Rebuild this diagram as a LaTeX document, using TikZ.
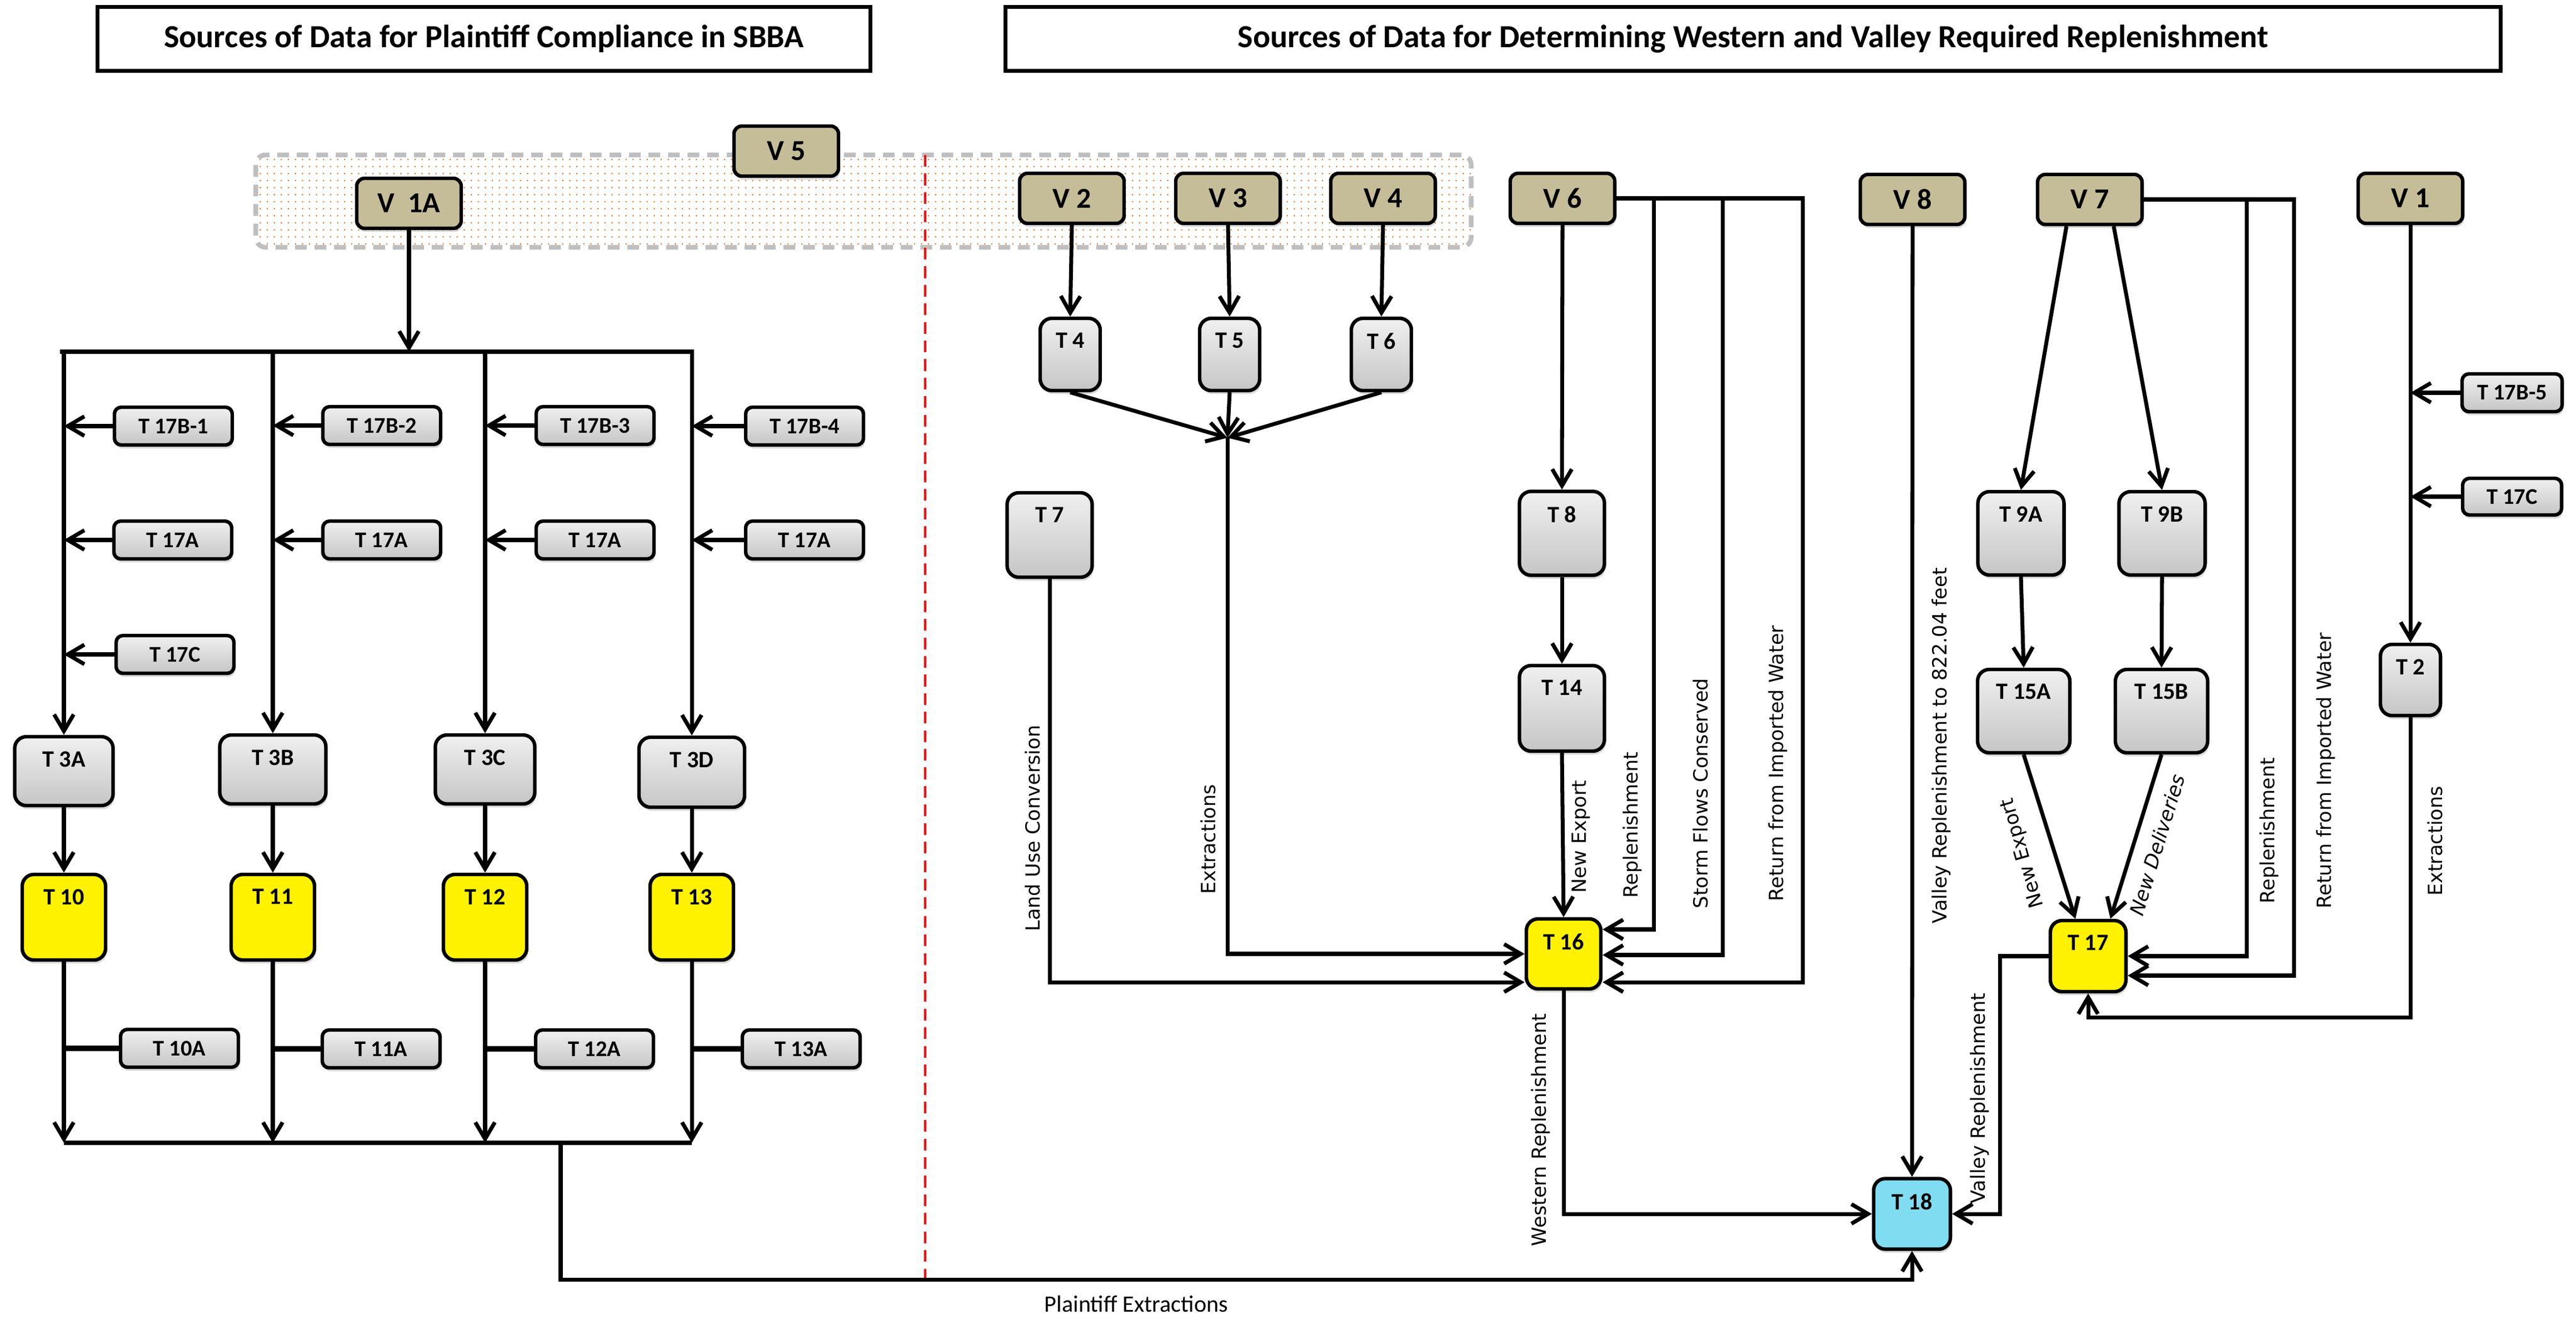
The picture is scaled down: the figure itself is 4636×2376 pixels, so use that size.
\documentclass[tikz,border=0pt]{standalone}
\usepackage{fontspec}
\setmainfont{Carlito}
\newfontfamily\labfont{DejaVu Sans}
\usetikzlibrary{arrows.meta,shadows,patterns.meta}
\definecolor{vtan}{HTML}{C4BD97}
\definecolor{tblue}{HTML}{80DCF0}
\definecolor{dotor}{HTML}{E46C0A}
\definecolor{greyline}{HTML}{BFBFBF}
\tikzset{
  base/.style={draw=black, line width=1.8pt, drop shadow={shadow xshift=0.6pt, shadow yshift=-1.8pt, opacity=0.3, fill=black!50}},
  vbox/.style={base, rounded corners=4pt, fill=vtan, minimum width=1.88cm, minimum height=0.9cm, font=\fontsize{14.8}{16}\selectfont\bfseries, inner sep=0pt},
  gbox/.style={base, rounded corners=6pt, top color=gray!12, bottom color=gray!45, inner sep=0pt},
  ybox/.style={base, rounded corners=6pt, fill=yellow, inner sep=0pt},
  bbox/.style={base, rounded corners=6pt, fill=tblue, inner sep=0pt},
  sbox/.style={base, rounded corners=3.5pt, top color=gray!12, bottom color=gray!45, minimum width=2.12cm, minimum height=0.68cm, font=\fontsize{11.5}{13}\selectfont\bfseries, inner sep=0pt},
  ytop/.style={label={[anchor=north, inner sep=0pt, yshift=-0.29cm, font=\fontsize{12}{14}\selectfont\bfseries]north:#1}},
  wh/.style 2 args={minimum width=#1, minimum height=#2},
  titlebox/.style={draw=black, line width=2pt, font=\fontsize{16.5}{19}\selectfont\bfseries, inner sep=0pt},
  region/.style={draw=greyline, line width=2.4pt, dash pattern=on 6pt off 4pt, rounded corners=5pt, pattern={Dots[distance=3.6pt, radius=0.4pt]}, pattern color=dotor, inner sep=0pt},
  conn/.style={line width=2pt},
  bus/.style={line width=2.4pt},
  stub/.style={line width=3pt},
  arr/.style={conn, -{Straight Barb[length=8.5pt, width=10pt]}},
  lab/.style={font=\labfont\fontsize{10}{12}\selectfont, rotate=90, inner sep=0pt},
  redline/.style={draw=red, line width=1pt, dash pattern=on 6pt off 3.5pt},
}
\begin{document}
\begin{tikzpicture}[x=0.01cm, y=-0.01cm]
\useasboundingbox (0,0) rectangle (4636,2376);

% titles
\node[titlebox, wh={13.9cm}{1.14cm}] (title1) at (871,70) {Sources of Data for Plaintiff Compliance in SBBA};
\node[titlebox, wh={26.89cm}{1.14cm}] (title2) at (3155,70) {Sources of Data for Determining Western and Valley Required Replenishment};

% V5 region
\node[region, wh={21.86cm}{1.66cm}] (V5reg) at (1554,362) {};
\coordinate (redtop) at (1665,279);
\coordinate (redbot) at (1665,2303);
\draw[redline] (redtop) -- (redbot);

% V nodes
\node[vbox] (V5) at (1415,272) {V 5};
\node[vbox] (V1A) at (736,366) {V\hspace{0.45em}1A};
\node[vbox] (V2) at (1929,357) {V 2};
\node[vbox] (V3) at (2210,357) {V 3};
\node[vbox] (V4) at (2489,357) {V 4};
\node[vbox] (V6) at (2812,357) {V 6};
\node[vbox] (V8) at (3442,359) {V 8};
\node[vbox] (V7) at (3761,359) {V 7};
\node[vbox] (V1) at (4338,357) {V 1};

% left side
\coordinate (busL) at (108,633);
\coordinate (busR) at (1249,633);
\coordinate (busT) at (736,633);
\node[gbox, ytop={T 3A}, wh={1.77cm}{1.24cm}] (T3A) at (115,1388) {};
\node[gbox, ytop={T 3B}, wh={1.91cm}{1.24cm}] (T3B) at (491,1385) {};
\node[gbox, ytop={T 3C}, wh={1.79cm}{1.24cm}] (T3C) at (873,1385) {};
\node[gbox, ytop={T 3D}, wh={1.90cm}{1.26cm}] (T3D) at (1245,1390) {};

\node[ybox, ytop={T 10}, wh={1.50cm}{1.54cm}] (T10) at (115,1651) {};
\node[ybox, ytop={T 11}, wh={1.50cm}{1.54cm}] (T11) at (491,1651) {};
\node[ybox, ytop={T 12}, wh={1.50cm}{1.54cm}] (T12) at (873,1651) {};
\node[ybox, ytop={T 13}, wh={1.50cm}{1.54cm}] (T13) at (1245,1651) {};

\node[sbox] (T17B1) at (312,767) {T 17B-1};
\node[sbox] (T17B2) at (687,766) {T 17B-2};
\node[sbox] (T17B3) at (1071,766) {T 17B-3};
\node[sbox] (T17B4) at (1448,767) {T 17B-4};
\node[sbox] (T17A1) at (311,972) {T 17A};
\node[sbox] (T17A2) at (687,972) {T 17A};
\node[sbox] (T17A3) at (1071,972) {T 17A};
\node[sbox] (T17A4) at (1448,972) {T 17A};
\node[sbox] (T17CL) at (315,1178) {T 17C};

\node[sbox] (T10A) at (323,1887) {T 10A};
\node[sbox] (T11A) at (686,1888) {T 11A};
\node[sbox] (T12A) at (1070,1888) {T 12A};
\node[sbox] (T13A) at (1442,1888) {T 13A};

\draw[arr] (V1A.south) -- (busT);
\draw[bus] (busL) -- (busR);
\foreach \c in {T3A,T3B,T3C,T3D}{
  \draw[arr] (\c.north |- busL) -- (\c.north);
}
\foreach \b/\c in {T17B1/T3A,T17B2/T3B,T17B3/T3C,T17B4/T3D,T17A1/T3A,T17A2/T3B,T17A3/T3C,T17A4/T3D,T17CL/T3A}{
  \draw[arr] (\b.west) -- (\c.north |- \b.west);
}
\draw[arr] (T3A.south) -- (T10.north);
\draw[arr] (T3B.south) -- (T11.north);
\draw[arr] (T3C.south) -- (T12.north);
\draw[arr] (T3D.south) -- (T13.north);

\coordinate (busB) at (1009,2057);
\coordinate (pe) at (1009,2303);
\foreach \c in {T10,T11,T12,T13}{
  \draw[arr] (\c.south) -- (\c.south |- busB);
}
\foreach \a/\c in {T10A/T10,T11A/T11,T12A/T12,T13A/T13}{
  \draw[stub] (\a.west) -- (\c.south |- \a.west);
}
\draw[bus] (T10.south |- busB) -- (T13.south |- busB);

% right side, middle
\node[gbox, ytop={T 4}, wh={1.08cm}{1.30cm}] (T4) at (1926,638) {};
\node[gbox, ytop={T 5}, wh={1.08cm}{1.30cm}] (T5) at (2213,638) {};
\node[gbox, ytop={T 6}, wh={1.08cm}{1.30cm}] (T6) at (2486,638) {};
\node[gbox, ytop={T 7}, wh={1.53cm}{1.52cm}] (T7) at (1889,963) {};
\node[gbox, ytop={T 8}, wh={1.53cm}{1.51cm}] (T8) at (2811,960) {};
\node[gbox, ytop={T 14}, wh={1.53cm}{1.54cm}] (T14) at (2811,1275) {};
\node[ybox, ytop={T 16}, wh={1.34cm}{1.26cm}] (T16) at (2814,1717) {};

\draw[arr] (V2.south) -- (T4.north);
\draw[arr] (V3.south) -- (T5.north);
\draw[arr] (V4.south) -- (T6.north);
\coordinate (J) at (2209,788);
\draw[arr] (T4.south) -- (J);
\draw[arr] (T5.south) -- (J);
\draw[arr] (T6.south) -- (J);
\draw[arr] (J) |- (T16.west);
\draw[arr] (T7.south) |- ([yshift=-0.51cm]T16.west);

\draw[arr] (V6.south) -- (T8.north);
\draw[arr] (T8.south) -- (T14.north);
\draw[arr] (T14.south) -- (T16.north);
\coordinate (r1) at (2976,1673);
\coordinate (r2) at (3100,1719);
\coordinate (r3) at (3244,1768);
\draw[arr] (V6.east) -| (r1) -- (r1 -| T16.east);
\draw[arr] (V6.east) -| (r2) -- (r2 -| T16.east);
\draw[arr] (V6.east) -| (r3) -- (r3 -| T16.east);

% right side, east
\node[gbox, ytop={T 9A}, wh={1.55cm}{1.50cm}] (T9A) at (3637,960) {};
\node[gbox, ytop={T 9B}, wh={1.55cm}{1.50cm}] (T9B) at (3891,960) {};
\node[gbox, ytop={T 15A}, wh={1.66cm}{1.50cm}] (T15A) at (3642,1280) {};
\node[gbox, ytop={T 15B}, wh={1.66cm}{1.50cm}] (T15B) at (3890,1280) {};
\node[ybox, ytop={T 17}, wh={1.36cm}{1.28cm}] (T17) at (3758,1721) {};
\node[gbox, ytop={T 2}, wh={1.08cm}{1.28cm}] (T2) at (4338,1224) {};
\node[sbox, wh={1.80cm}{0.68cm}] (T17B5) at (4521,707) {T 17B-5};
\node[sbox, wh={1.78cm}{0.66cm}] (T17CR) at (4521,894) {T 17C};
\node[bbox, ytop={T 18}, wh={1.38cm}{1.27cm}] (T18) at (3441,2185) {};

\draw[arr] ([xshift=-0.42cm]V7.south) -- (T9A.north);
\draw[arr] ([xshift=0.43cm]V7.south) -- (T9B.north);
\draw[arr] (T9A.south) -- (T15A.north);
\draw[arr] (T9B.south) -- (T15B.north);
\draw[arr] (T15A.south) -- ([xshift=-0.23cm]T17.north);
\draw[arr] (T15B.south) -- ([xshift=0.40cm]T17.north);
\coordinate (q1) at (4043,1721);
\coordinate (q2) at (4128,1756);
\draw[arr] (V7.east) -| (q1) -- (q1 -| T17.east);
\draw[arr] (V7.east) -| (q2) -- (q2 -| T17.east);
\draw[arr] (V1.south) -- (T2.north);
\draw[arr] (T17B5.west) -- (V1.south |- T17B5.west);
\draw[arr] (T17CR.west) -- (V1.south |- T17CR.west);
\coordinate (e1) at (4338,1831);
\draw[arr] (T2.south) -- (e1) -| (T17.south);
\coordinate (vr) at (3599,1721);
\draw[arr] (T17.west) -- (vr) |- (T18.east);
\draw[arr] (T16.south) |- (T18.west);
\draw[arr] (V8.south) -- (T18.north);
\draw[arr] (busB) -- (pe) -| (T18.south);

% labels
\node[lab] (lLUC) at (1858,1491) {Land Use Conversion};
\node[lab] (lExt1) at (2174,1511) {Extractions};
\node[lab] (lNE1) at (2845,1506) {New Export};
\node[lab] (lRep1) at (2938,1485) {Replenishment};
\node[lab] (lSFC) at (3060,1428) {Storm Flows Conserved};
\node[lab] (lRIW1) at (3200,1374) {Return from Imported Water};
\node[lab] (lWR) at (2773,2034) {Western Replenishment};
\node[lab] (lVR822) at (3494,1342) {Valley Replenishment to 822.04 feet};
\node[lab, rotate=16] (lNE2) at (3641,1535) {New Export};
\node[lab, rotate=-17, font=\labfont\itshape\fontsize{10}{12}\selectfont] (lND) at (3882,1521) {New Deliveries};
\node[lab] (lRep2) at (4084,1495) {Replenishment};
\node[lab] (lRIW2) at (4186,1387) {Return from Imported Water};
\node[lab] (lExt2) at (4382,1514) {Extractions};
\node[lab] (lVR) at (3563,1977) {Valley Replenishment};
\node[font=\fontsize{12}{14}\selectfont, inner sep=0pt] (lPE) at (2045,2347) {Plaintiff Extractions};
\end{tikzpicture}
\end{document}
